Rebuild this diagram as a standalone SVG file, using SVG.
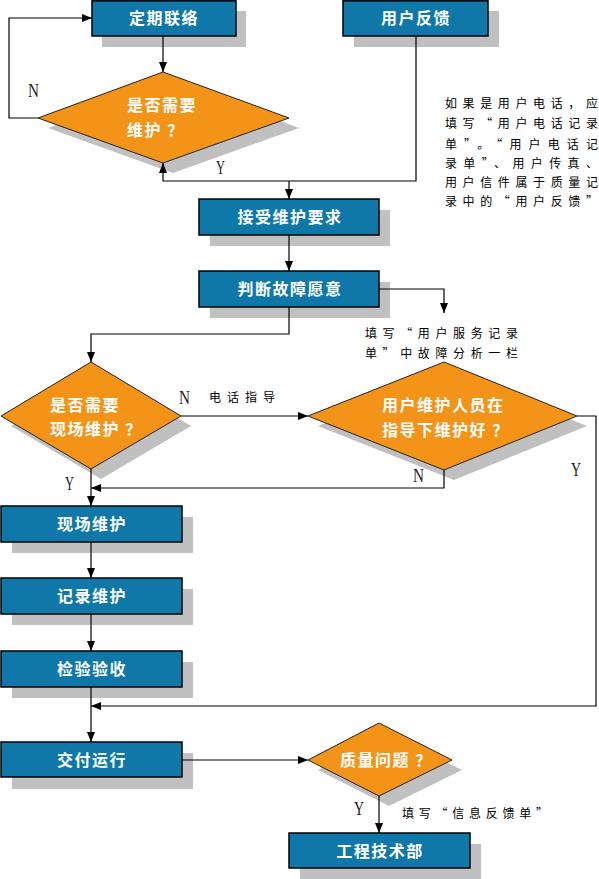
<svg xmlns="http://www.w3.org/2000/svg" width="599" height="879" viewBox="0 0 599 879">
<style>
.box{fill:#0f78a9;stroke:#000;stroke-width:1.5}
.sh{fill:#c0c0c0}
.dia{fill:#f39419;stroke:#222;stroke-width:1}
.bt{font-family:"Noto Sans CJK SC","Noto Sans",sans-serif;font-size:16px;font-weight:bold;fill:#fff;letter-spacing:1.5px}
.note{font-family:"Noto Sans CJK SC",sans-serif;font-size:12px;fill:#000}
.yn{font-family:"Liberation Serif",serif;font-size:19px;fill:#222}
.c{fill:none;stroke:#000;stroke-width:1.2}
</style>
<defs>
<marker id="ah" markerUnits="userSpaceOnUse" markerWidth="10" markerHeight="8" refX="10" refY="4" orient="auto">
<path d="M0,0 L10,4 L0,8 z" fill="#000"/>
</marker>
</defs>
<rect width="599" height="879" fill="#fff"/>

<g id="n1"><rect class="sh" x="102" y="11" width="144" height="36"/><rect class="box" x="92" y="0.8" width="144" height="35.2"/><text class="bt" x="164" y="24" text-anchor="middle">定期联络</text></g>
<g id="n2"><rect class="sh" x="354" y="11" width="145" height="36"/><rect class="box" x="343" y="0.8" width="145" height="35.2"/><text class="bt" x="416" y="24" text-anchor="middle">用户反馈</text></g>
<g id="d1"><polygon class="sh" points="173,82 299,128 173,173 48,128"/><polygon class="dia" points="163,72 289,118 163,163 38,118"/><text class="bt" x="127" y="111">是否需要</text><text class="bt" x="127" y="136">维护 ？</text></g>
<g id="n3"><rect class="sh" x="210" y="210" width="180" height="36"/><rect class="box" x="199" y="199" width="180" height="36"/><text class="bt" x="290" y="223" text-anchor="middle">接受维护要求</text></g>
<g id="n4"><rect class="sh" x="210" y="282" width="180" height="36"/><rect class="box" x="199" y="271" width="180" height="36"/><text class="bt" x="290" y="295" text-anchor="middle">判断故障愿意</text></g>
<g id="d2"><polygon class="sh" points="101,372 191,426 101,479 11,426"/><polygon class="dia" points="91,362 181,416 91,469 1,416"/><text class="bt" x="50" y="411">是否需要</text><text class="bt" x="50" y="435">现场维护 ？</text></g>
<g id="d3"><polygon class="sh" points="454,372 587,426 454,480 318,426"/><polygon class="dia" points="444,362 577,416 444,470 308,416"/><text class="bt" x="382" y="411">用户维护人员在</text><text class="bt" x="382" y="436">指导下维护好 ？</text></g>
<g id="n5"><rect class="sh" x="12" y="517" width="181" height="36"/><rect class="box" x="1" y="506" width="181" height="36"/><text class="bt" x="92" y="530" text-anchor="middle">现场维护</text></g>
<g id="n6"><rect class="sh" x="12" y="589" width="181" height="36"/><rect class="box" x="1" y="578" width="181" height="36"/><text class="bt" x="92" y="602" text-anchor="middle">记录维护</text></g>
<g id="n7"><rect class="sh" x="12" y="662" width="181" height="36"/><rect class="box" x="1" y="651" width="181" height="36"/><text class="bt" x="92" y="675" text-anchor="middle">检验验收</text></g>
<g id="n8"><rect class="sh" x="12" y="753" width="181" height="36"/><rect class="box" x="1" y="742" width="181" height="35"/><text class="bt" x="92" y="766" text-anchor="middle">交付运行</text></g>
<g id="d4"><polygon class="sh" points="389,733 462,770 389,806 318,770"/><polygon class="dia" points="379,723 452,760 379,796 308,760"/><text class="bt" x="340" y="766">质量问题 ？</text></g>
<g id="n9"><rect class="sh" x="300" y="844" width="181" height="35"/><rect class="box" x="289" y="833" width="181" height="35"/><text class="bt" x="380" y="857" text-anchor="middle">工程技术部</text></g>

<g id="notes">
<text class="note" x="445" y="108" textLength="153" lengthAdjust="spacing">如果是用户电话，应</text>
<text class="note" x="445" y="128" textLength="153" lengthAdjust="spacing">填写“用户电话记录</text>
<text class="note" x="445" y="149" textLength="153" lengthAdjust="spacing">单”。“用户电话记</text>
<text class="note" x="445" y="168" textLength="153" lengthAdjust="spacing">录单”、用户传真、</text>
<text class="note" x="445" y="187" textLength="153" lengthAdjust="spacing">用户信件属于质量记</text>
<text class="note" x="445" y="206" textLength="153" lengthAdjust="spacing">录中的“用户反馈”</text>
<text class="note" x="365" y="338" textLength="153" lengthAdjust="spacing">填写“用户服务记录</text>
<text class="note" x="365" y="358" textLength="153" lengthAdjust="spacing">单”中故障分析一栏</text>
<text class="note" x="209" y="402" textLength="66" lengthAdjust="spacing">电话指导</text>
<text class="note" x="402" y="818" textLength="146" lengthAdjust="spacing">填写“信息反馈单”</text>
</g>

<g id="labels">
<text class="yn" x="28" y="97" textLength="11" lengthAdjust="spacingAndGlyphs">N</text>
<text class="yn" x="216" y="174" textLength="9" lengthAdjust="spacingAndGlyphs">Y</text>
<text class="yn" x="179" y="404" textLength="11" lengthAdjust="spacingAndGlyphs">N</text>
<text class="yn" x="65" y="490" textLength="9" lengthAdjust="spacingAndGlyphs">Y</text>
<text class="yn" x="413" y="482" textLength="11" lengthAdjust="spacingAndGlyphs">N</text>
<text class="yn" x="571" y="476" textLength="10" lengthAdjust="spacingAndGlyphs">Y</text>
<text class="yn" x="354" y="815" textLength="10" lengthAdjust="spacingAndGlyphs">Y</text>
</g>

<g id="connectors">
<path class="c" d="M163,36 V72" marker-end="url(#ah)"/>
<path class="c" d="M38,118 H9 V18 H92" marker-end="url(#ah)"/>
<path class="c" d="M416,36 V181 H163 V163" marker-end="url(#ah)"/>
<path class="c" d="M289,181 V199" marker-end="url(#ah)"/>
<path class="c" d="M289,235 V271" marker-end="url(#ah)"/>
<path class="c" d="M379,289 H444 V313" marker-end="url(#ah)"/>
<path class="c" d="M289,307 V334 H91 V362" marker-end="url(#ah)"/>
<path class="c" d="M181,416 H308" marker-end="url(#ah)"/>
<path class="c" d="M444,470 V488 H91" marker-end="url(#ah)"/>
<path class="c" d="M91,469 V506" marker-end="url(#ah)"/>
<path class="c" d="M577,416 H596 V706 H91" marker-end="url(#ah)"/>
<path class="c" d="M91,542 V578" marker-end="url(#ah)"/>
<path class="c" d="M91,614 V651" marker-end="url(#ah)"/>
<path class="c" d="M91,687 V742" marker-end="url(#ah)"/>
<path class="c" d="M182,760 H308" marker-end="url(#ah)"/>
<path class="c" d="M379,796 V833" marker-end="url(#ah)"/>
</g>
</svg>
